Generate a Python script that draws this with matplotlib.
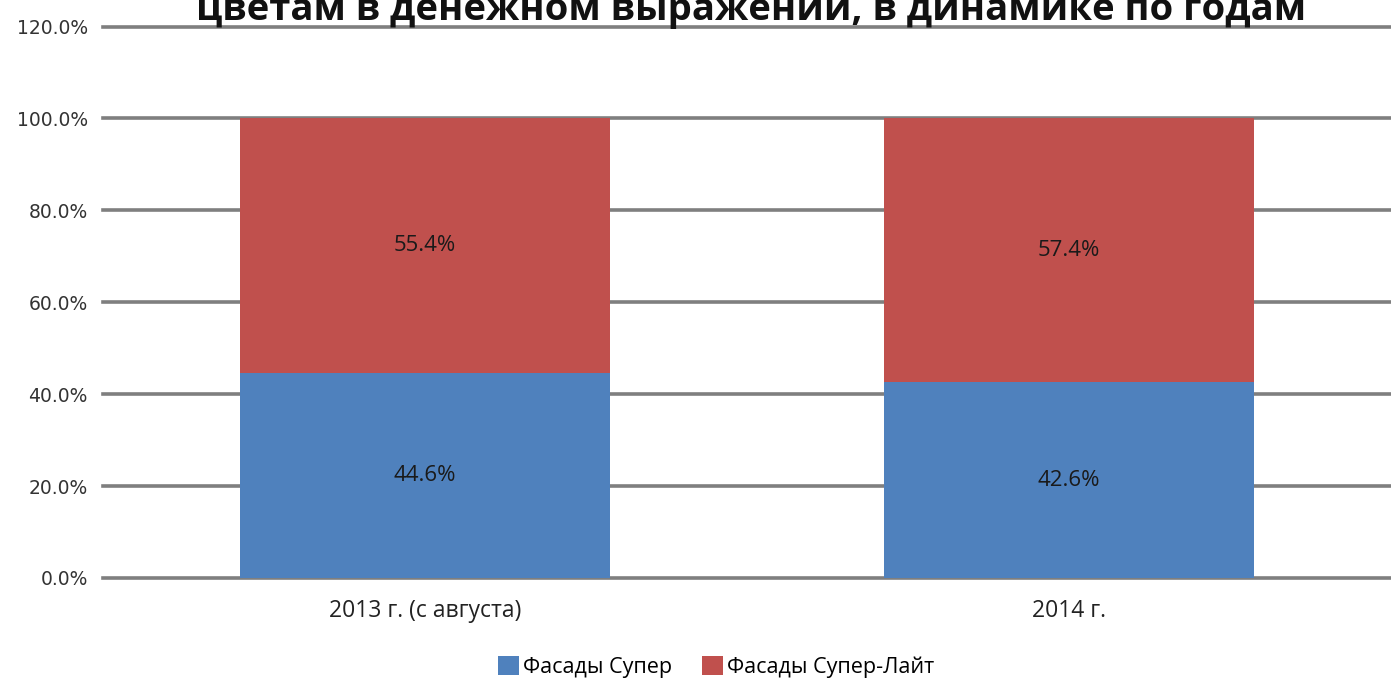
import matplotlib.pyplot as plt
import numpy as np

years = ["2013 г. (с августа)", "2014 г."]
super_share = [44.6, 42.6]
super_lite_share = [55.4, 57.4]
series_names = ["Фасады Супер", "Фасады Супер-Лайт"]
yticks = [0, 20, 40, 60, 80, 100, 120]

plt.rcParams["font.family"] = ["Open Sans", "DejaVu Sans"]

fig = plt.figure(figsize=(13.91, 6.82), dpi=100)
ax = fig.add_axes([0.074, 0.1525, 0.926, 0.8085])

x = np.arange(len(years))
w = 0.575
b1 = ax.bar(x, super_share, w, color="#4F81BD", label=series_names[0], zorder=3)
b2 = ax.bar(x, super_lite_share, w, bottom=super_share, color="#C0504D",
            label=series_names[1], zorder=3)

for i in range(len(years)):
    ax.text(x[i], super_share[i] / 2, f"{super_share[i]:.1f}%", ha="center",
            va="center", fontsize=16, color="#1a1a1a", zorder=4)
    ax.text(x[i], super_share[i] + super_lite_share[i] / 2,
            f"{super_lite_share[i]:.1f}%", ha="center", va="center",
            fontsize=16, color="#1a1a1a", zorder=4)

ax.set_xlim(-0.5, 1.5)
ax.set_ylim(0, 120)
ax.set_yticks(yticks)
ax.set_yticklabels([f"{v:.1f}%" for v in yticks], fontsize=13.5,
                   color="#333333", family="DejaVu Sans")
ax.set_xticks(x)
ax.set_xticklabels(years, fontsize=16.5, color="#222222")
ax.tick_params(axis="x", length=0, pad=15)
ax.tick_params(axis="y", length=0, pad=11)
ax.grid(axis="y", color="#7f7f7f", linewidth=2.6, zorder=1)
for gl in ax.get_ygridlines():
    gl.set_clip_on(False)
for s in ax.spines.values():
    s.set_visible(False)

# title sits partly above the top edge of the figure
fig.text(0.54, 0.970, "цветам в денежном выражении, в динамике по годам",
         ha="center", va="baseline", fontsize=27.5, fontweight="bold",
         color="#111111")

fig.legend(handles=[b1, b2], loc="center", bbox_to_anchor=(0.515, 0.022),
           ncol=2, frameon=False, fontsize=15.5, handlelength=0.95,
           handleheight=0.95, handletextpad=0.2, columnspacing=1.4)

fig.savefig("out.png", dpi=100)
